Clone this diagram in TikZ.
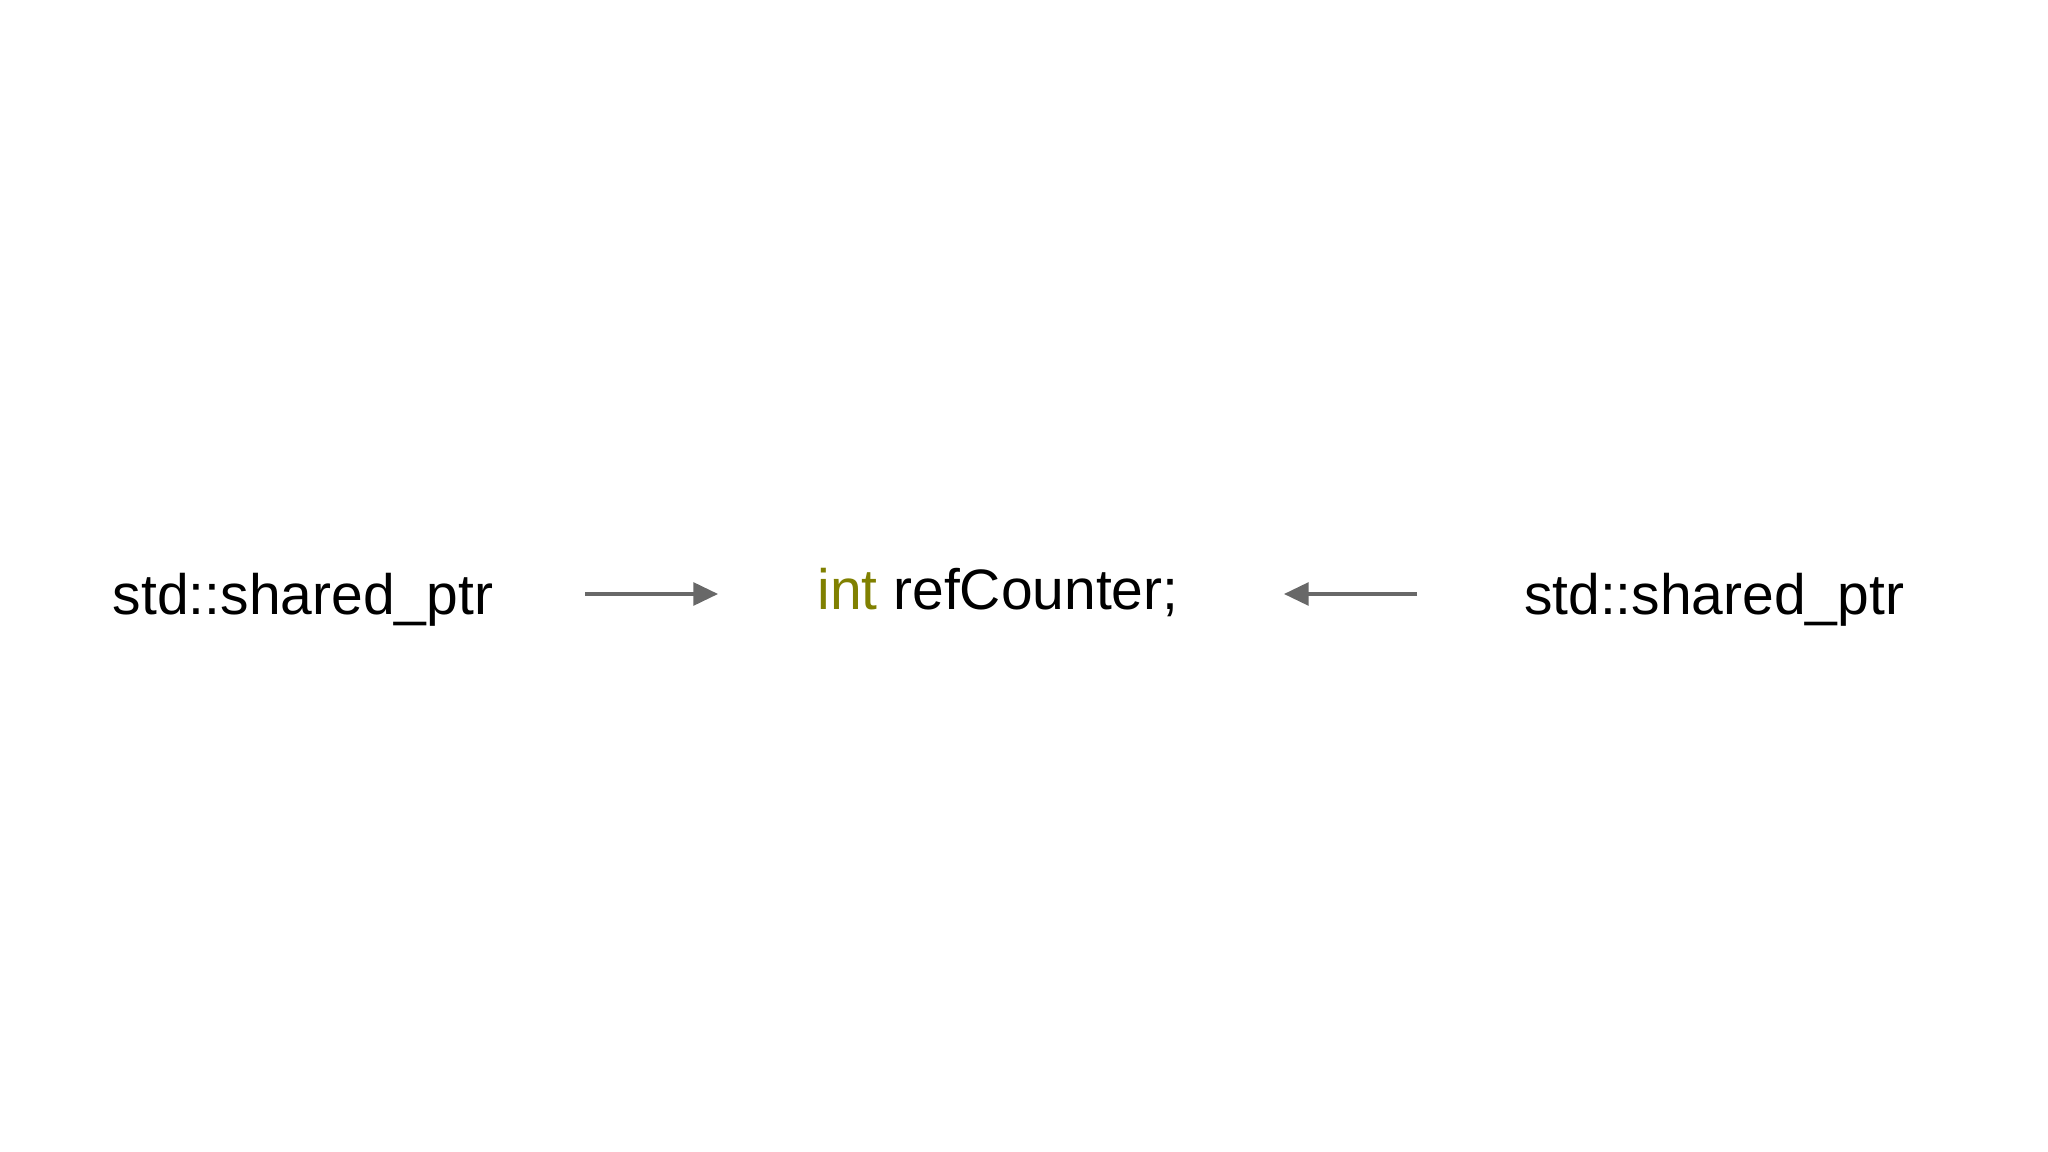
\documentclass[tikz,border=0pt]{standalone}
\usepackage{fontspec}
\setmainfont{Liberation Sans}
\usetikzlibrary{arrows.meta}
\definecolor{kw}{RGB}{128,128,0}
\definecolor{arr}{RGB}{104,104,104}
\begin{document}
\begin{tikzpicture}[x=0.01cm,y=-0.01cm,
  lbl/.style={font=\fontsize{16.2}{19}\selectfont, inner sep=0pt, anchor=base},
  conn/.style={draw=arr, line width=0.9pt, -{Triangle[length=7pt,width=6.5pt]}}]
\useasboundingbox[fill=white] (0,0) rectangle (2048,1152);
\node[lbl] (L) at (303,614) {std::shared\_ptr};
\node[lbl] (M) at (998,610) {\textcolor{kw}{int} refCounter;};
\node[lbl] (R) at (1714,614) {std::shared\_ptr};
\coordinate (l1) at (585,594); \coordinate (l2) at (718,594);
\coordinate (r1) at (1417,594); \coordinate (r2) at (1284,594);
\draw[conn] (l1) -- (l2);
\draw[conn] (r1) -- (r2);
\end{tikzpicture}
\end{document}
